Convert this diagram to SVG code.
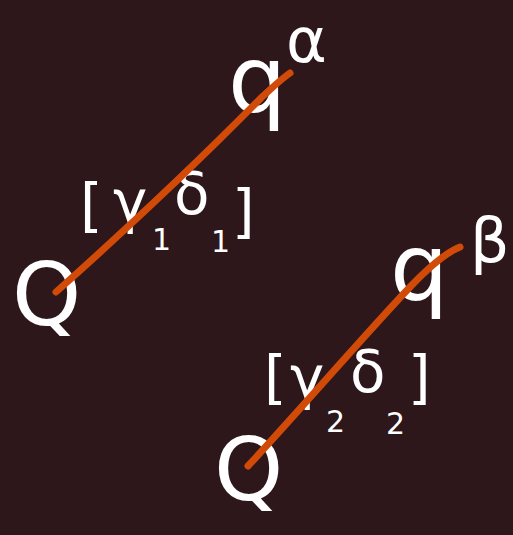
<svg xmlns="http://www.w3.org/2000/svg" width="513" height="535" viewBox="0 0 513 535">
<style>
.t{fill:#ffffff;font-family:"DejaVu Sans","Liberation Sans",sans-serif;}
.big{font-size:88px;}
.q{font-size:92px;}
.sup{font-size:62px;}
.lab{font-size:58px;}
.sub{font-size:30px;}
.edge{fill:none;stroke:#d24a08;stroke-width:7;stroke-linecap:round;}
</style>
<rect width="513" height="535" fill="#2d171a"/>
<g id="node-Q1"><text class="t big" x="12" y="325">Q</text></g>
<g id="node-q-alpha"><text class="t q" x="228" y="112">q</text><text class="t sup" x="286" y="62">α</text></g>
<g id="node-Q2"><text class="t big" x="214" y="500">Q</text></g>
<g id="node-q-beta"><text class="t q" x="390" y="300">q</text><text class="t sup" x="470" y="262">β</text></g>
<g id="labels">
<text class="t lab" x="80" y="226">[</text>
<text class="t lab" x="113" y="222">γ</text>
<text class="t sub" x="152" y="250">1</text>
<text class="t lab" x="174" y="214">δ</text>
<text class="t sub" x="211" y="252">1</text>
<text class="t lab" x="232" y="232">]</text>
<text class="t lab" x="264" y="398">[</text>
<text class="t lab" x="290" y="398">γ</text>
<text class="t sub" x="326" y="432">2</text>
<text class="t lab" x="350" y="392">δ</text>
<text class="t sub" x="386" y="434">2</text>
<text class="t lab" x="408" y="398">]</text>
</g>
<g id="connectors">
<path class="edge" d="M56 292 C120 235 200 160 262 97 C272 88 280 80 290 73"/>
<path class="edge" d="M248 466 C300 410 360 340 410 287 C430 266 445 253 460 247"/>
</g>
</svg>
